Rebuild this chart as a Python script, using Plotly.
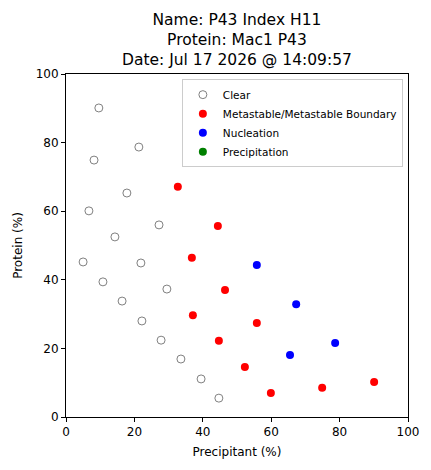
import plotly.graph_objects as go

clear_x = [9.6, 21.3, 8.2, 17.8, 6.7, 27.2, 14.3, 5.0, 21.9, 10.8, 29.5, 16.4, 22.2, 27.8, 33.6, 39.5, 44.7]
clear_y = [90.1, 78.7, 74.9, 65.3, 60.1, 56.0, 52.5, 45.2, 44.9, 39.4, 37.3, 33.8, 28.0, 22.4, 16.9, 11.1, 5.5]
meta_x = [32.7, 44.4, 36.8, 46.5, 37.1, 55.8, 44.7, 52.3, 59.9, 74.9, 90.1]
meta_y = [67.1, 55.7, 46.4, 37.0, 29.7, 27.4, 22.2, 14.6, 7.0, 8.5, 10.2]
nuc_x = [55.8, 67.3, 78.7, 65.5]
nuc_y = [44.3, 32.9, 21.6, 18.1]
prec_x = [None]
prec_y = [None]
title_lines = ["Name: P43 Index H11", "Protein: Mac1 P43", "Date: Jul 17 2026 @ 14:09:57"]

fig = go.Figure()
fig.add_trace(go.Scatter(x=clear_x, y=clear_y, mode="markers", name="Clear",
    marker=dict(size=8, color="white", line=dict(color="gray", width=1))))
fig.add_trace(go.Scatter(x=meta_x, y=meta_y, mode="markers", name="Metastable/Metastable Boundary",
    marker=dict(size=8, color="red")))
fig.add_trace(go.Scatter(x=nuc_x, y=nuc_y, mode="markers", name="Nucleation",
    marker=dict(size=8, color="blue")))
fig.add_trace(go.Scatter(x=prec_x, y=prec_y, mode="markers", name="Precipitation",
    marker=dict(size=8, color="green")))

ax = dict(range=[0, 100], showgrid=False, zeroline=False, showline=True, linecolor="black",
          mirror=True, ticks="outside", tickcolor="black", ticklen=4, dtick=20, automargin=False,
          tickfont=dict(size=12))
fig.update_layout(
    width=423, height=462, margin=dict(l=58, r=23, t=66, b=53, autoexpand=False),
    plot_bgcolor="white", paper_bgcolor="white",
    font=dict(family="DejaVu Sans", size=12, color="black"),
    xaxis=dict(ax, title=dict(text="Precipitant (%)", standoff=9, font=dict(size=12))),
    yaxis=dict(ax, title=dict(text="Protein (%)", standoff=10, font=dict(size=12))),
    legend=dict(x=0.985, y=0.985, xanchor="right", yanchor="top", bgcolor="white",
                bordercolor="#cccccc", borderwidth=1, font=dict(size=10.5),
                tracegroupgap=0, itemwidth=30),
)
fig.add_annotation(text="<br>".join(title_lines), xref="paper", yref="paper", x=0.5, y=1,
                   xanchor="center", yanchor="bottom", yshift=3, showarrow=False,
                   font=dict(size=15.5), align="center")
fig.write_html("out.html")
